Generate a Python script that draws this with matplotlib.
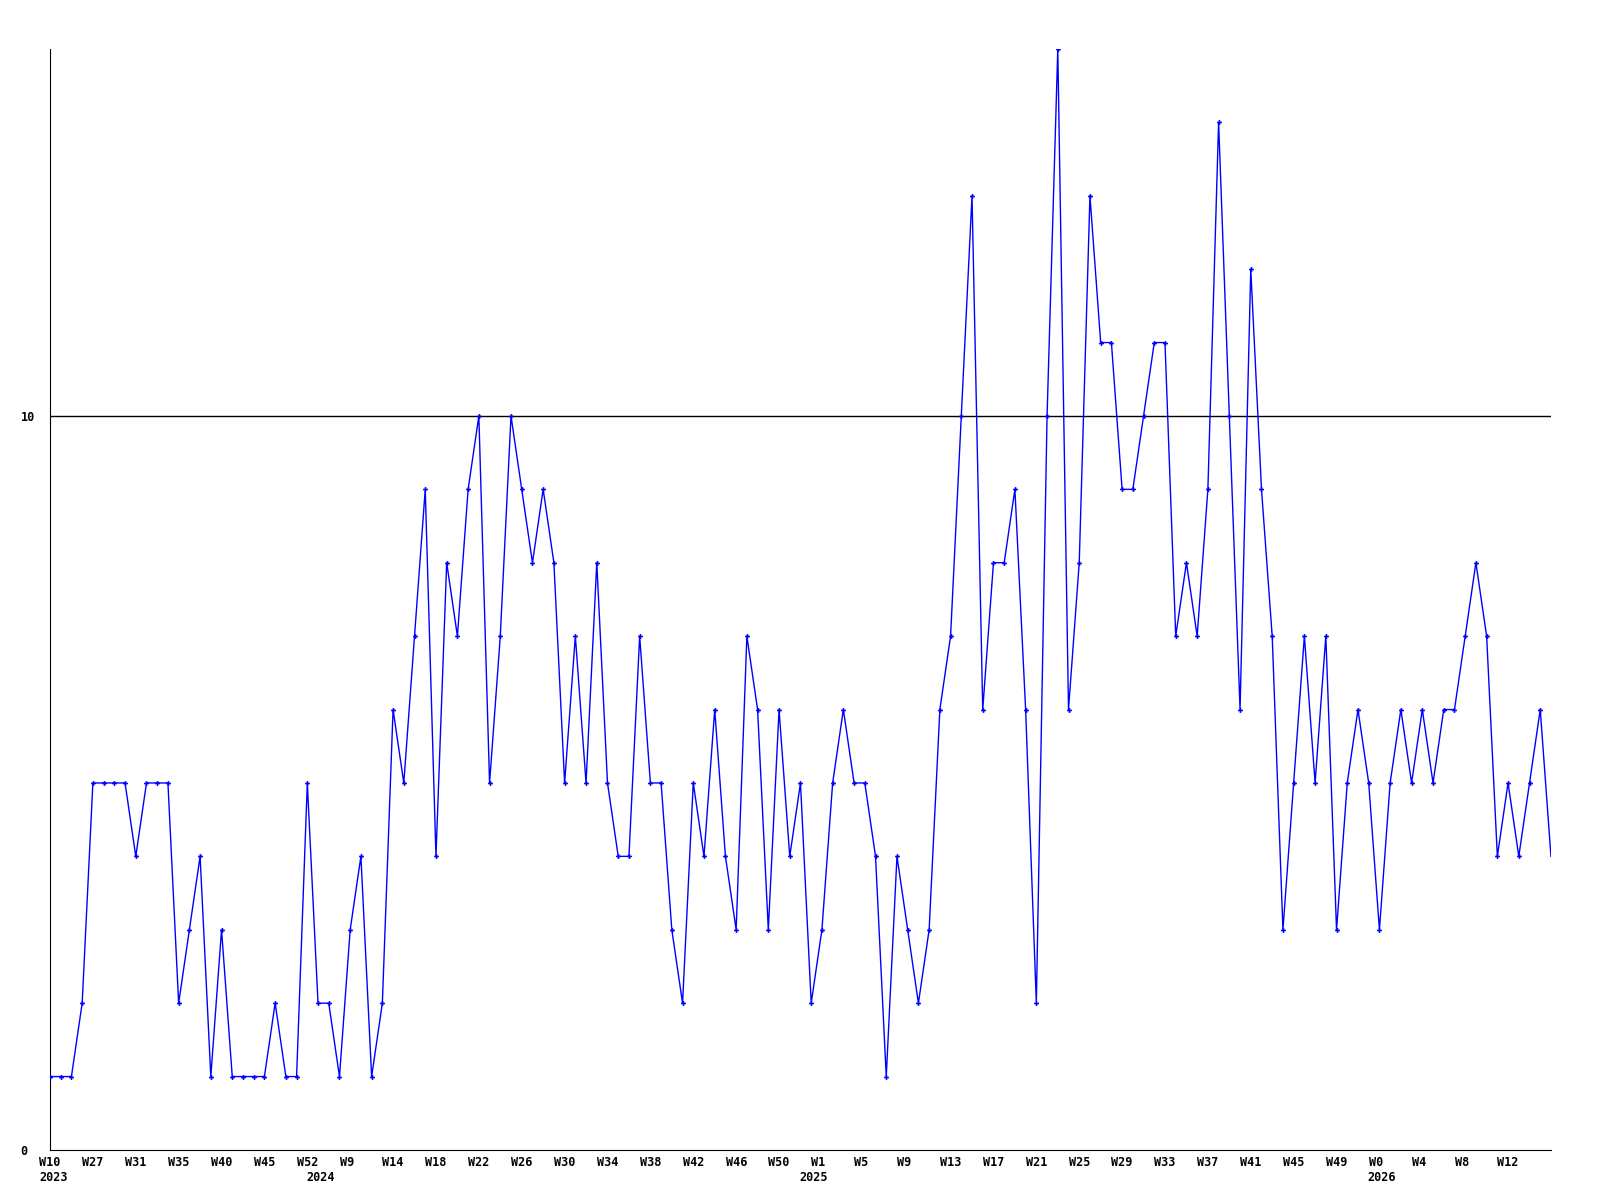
import matplotlib
matplotlib.use('Agg')
import matplotlib.pyplot as plt
import matplotlib.transforms as mtransforms

# weekly counts, one per point
values = [1, 1, 1, 2, 5, 5, 5, 5, 4, 5,
          5, 5, 2, 3, 4, 1, 3, 1, 1, 1,
          1, 2, 1, 1, 5, 2, 2, 1, 3, 4,
          1, 2, 6, 5, 7, 9, 4, 8, 7, 9,
          10, 5, 7, 10, 9, 8, 9, 8, 5, 7,
          5, 8, 5, 4, 4, 7, 5, 5, 3, 2,
          5, 4, 6, 4, 3, 7, 6, 3, 6, 4,
          5, 2, 3, 5, 6, 5, 5, 4, 1, 4,
          3, 2, 3, 6, 7, 10, 13, 6, 8, 8,
          9, 6, 2, 10, 15, 6, 8, 13, 11, 11,
          9, 9, 10, 11, 11, 7, 8, 7, 9, 14,
          10, 6, 12, 9, 7, 3, 5, 7, 5, 7,
          3, 5, 6, 5, 3, 5, 6, 5, 6, 5,
          6, 6, 7, 8, 7, 4, 5, 4, 5, 6,
          4]

week_labels = ['W10', 'W27', 'W31', 'W35', 'W40', 'W45', 'W52', 'W9', 'W14',
               'W18', 'W22', 'W26', 'W30', 'W34', 'W38', 'W42', 'W46', 'W50',
               'W1', 'W5', 'W9', 'W13', 'W17', 'W21', 'W25', 'W29', 'W33',
               'W37', 'W41', 'W45', 'W49', 'W0', 'W4', 'W8', 'W12']
week_ticks = list(range(0, 4 * len(week_labels), 4))

years = ['2023', '2024', '2025', '2026']
year_pos = [0.3, 25.2, 71.2, 124.2]

x = list(range(len(values)))

fig = plt.figure(figsize=(16, 12), dpi=100)
ax = fig.add_axes([0.03125, 0.0417, 0.9381, 0.9175])

fs = 8.5
font = dict(family='DejaVu Sans Mono', weight='bold', size=fs)

ax.axhline(10, color='black', lw=1, zorder=1)
ax.plot(x[:-1], values[:-1], color='blue', lw=1, marker='P', ms=3.5,
        mew=0, zorder=3)
ax.plot(x[-2:], values[-2:], color='blue', lw=1, zorder=3)

ax.set_xlim(0, len(values) - 1)
ax.set_ylim(0, 15)

for s in ['top', 'right']:
    ax.spines[s].set_visible(False)

ax.set_yticks([0, 10])
ax.set_yticklabels(['0', '10'], fontdict=font, ha='left')
ax.tick_params(axis='y', length=0, pad=21.3)

ax.set_xticks(week_ticks)
ax.set_xticklabels(week_labels, fontdict=font, ha='left')
ax.tick_params(axis='x', length=0, pad=4.5)
# week labels start 1.5 characters left of their point
shift = mtransforms.ScaledTranslation(-1.5 * 0.6 * fs / 72, 0, fig.dpi_scale_trans)
for lab in ax.get_xticklabels():
    lab.set_transform(lab.get_transform() + shift)

trans = mtransforms.blended_transform_factory(ax.transData, ax.transAxes)
for yr, p in zip(years, year_pos):
    ax.text(p, -0.0195, yr, transform=trans, ha='center', va='top', **font)

fig.savefig('out.png', dpi=100)
